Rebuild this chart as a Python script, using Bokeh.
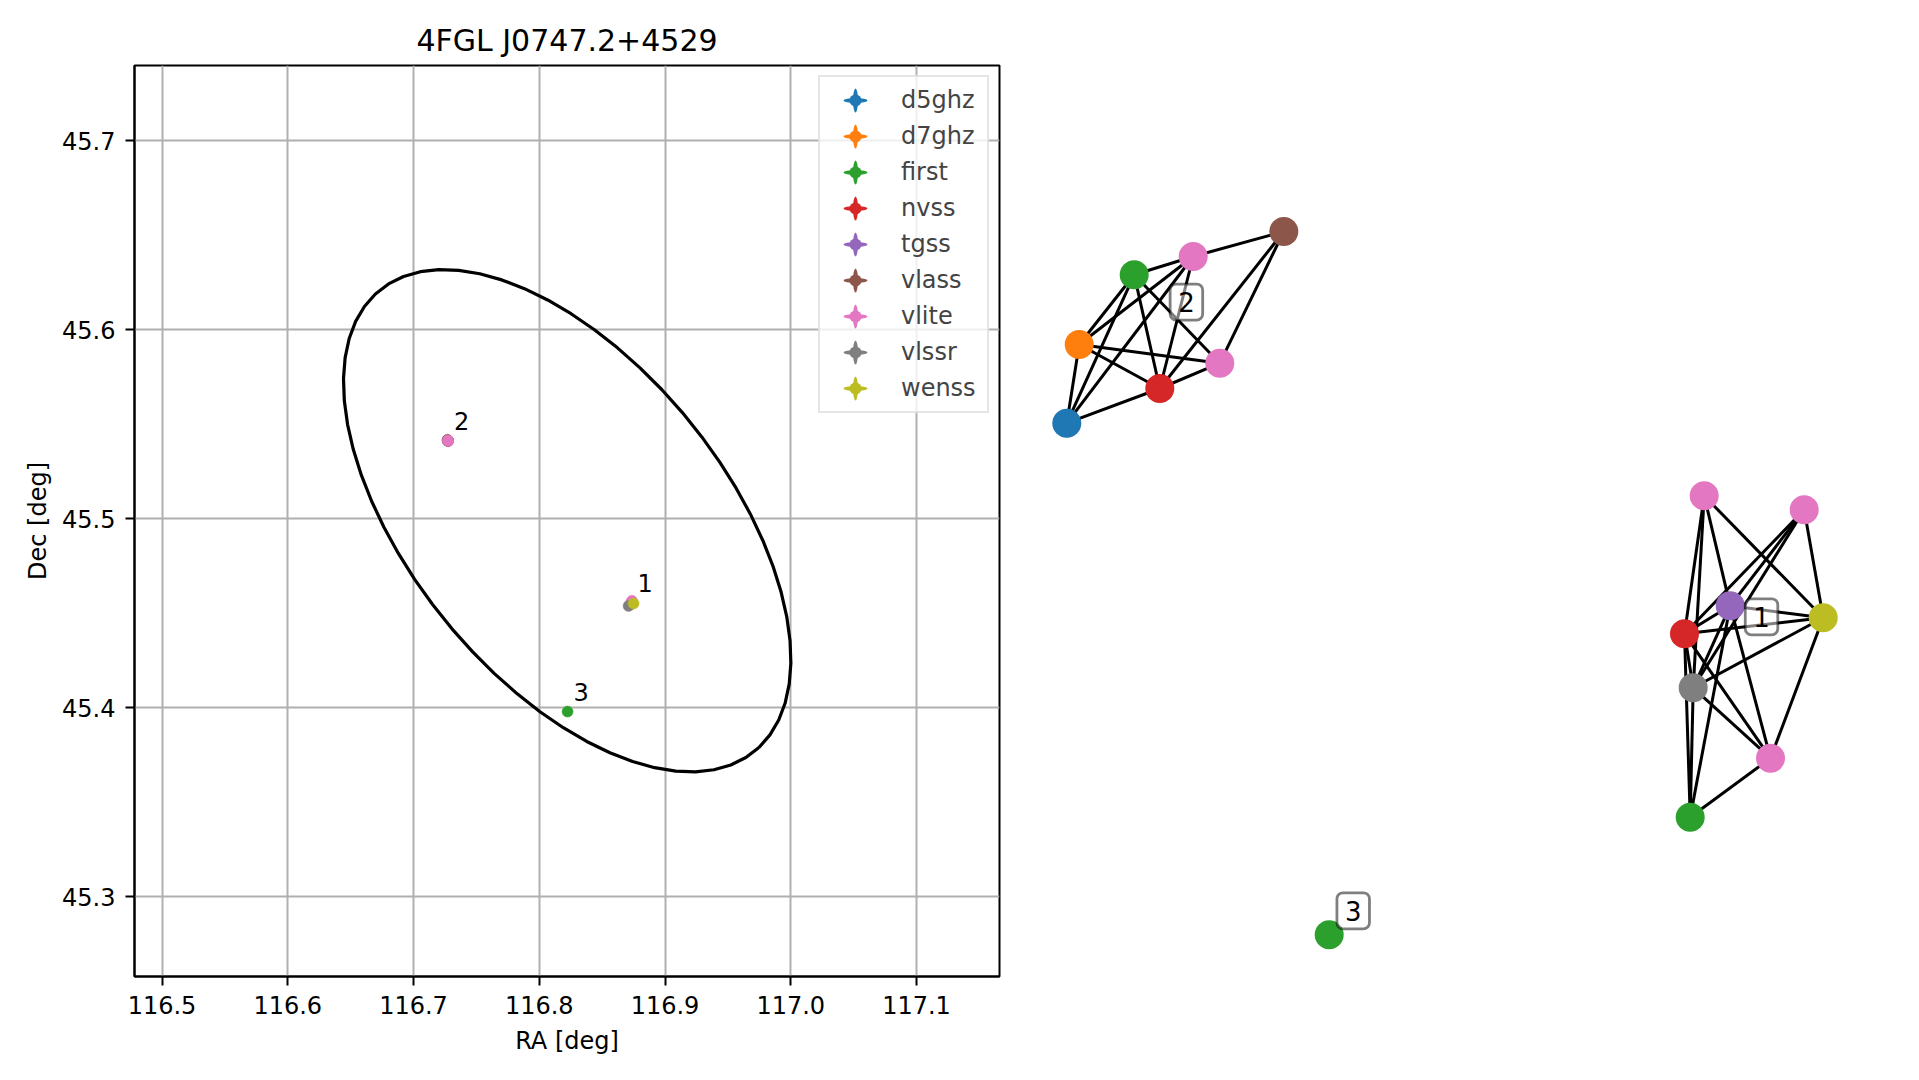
import numpy as np
from bokeh.plotting import figure
from bokeh.models import (Range1d, FixedTicker, PrintfTickFormatter, ColumnDataSource,
                          Legend, LegendItem)
from bokeh.layouts import row
from bokeh.embed import file_html
from bokeh.resources import INLINE
from bokeh.core.properties import value

FONT = "DejaVu Sans"

# ---------------- data ----------------
TITLE = "4FGL J0747.2+4529"
X_LABEL = "RA [deg]"
Y_LABEL = "Dec [deg]"
X_TICKS = [116.5, 116.6, 116.7, 116.8, 116.9, 117.0, 117.1]
Y_TICKS = [45.3, 45.4, 45.5, 45.6, 45.7]
X_LIMITS = (116.4781, 117.1660)
Y_LIMITS = (45.2578, 45.7399)

SURVEYS = ["d5ghz", "d7ghz", "first", "nvss", "tgss", "vlass", "vlite", "vlssr", "wenss"]
SURVEY_COLORS = ["#1f77b4", "#ff7f0e", "#2ca02c", "#d62728", "#9467bd",
                 "#8c564b", "#e377c2", "#7f7f7f", "#bcbd22"]

# radio counterparts (sky positions) and the group each belongs to
SRC_SURVEY = ["first", "nvss", "tgss", "vlite", "vlite", "vlite", "vlssr", "wenss",
              "d5ghz", "d7ghz", "first", "nvss", "vlass", "vlite", "vlite",
              "first"]
SRC_RA = [116.8733, 116.8728, 116.8738, 116.8737, 116.8734, 116.8740, 116.8710, 116.8750,
          116.7272, 116.7273, 116.7274, 116.7275, 116.7270, 116.7274, 116.7275,
          116.8225]
SRC_DEC = [45.4552, 45.4549, 45.4553, 45.4566, 45.4560, 45.4556, 45.4539, 45.4552,
           45.5413, 45.5414, 45.5414, 45.5412, 45.5418, 45.5414, 45.5413,
           45.3980]
SRC_GROUP = [1, 1, 1, 1, 1, 1, 1, 1,
             2, 2, 2, 2, 2, 2, 2,
             3]
GROUP_IDS = [1, 2, 3]

# 95% localisation ellipse
ELLIPSE_RA = 116.8222
ELLIPSE_DEC = 45.4990
ELLIPSE_SEMI_MAJOR = 0.1607
ELLIPSE_SEMI_MINOR = 0.0860
ELLIPSE_ANGLE = -48.3   # major axis angle from +RA direction (deg, tangent plane)

# cross-match graph (layout coordinates)
NODE_SURVEY = ["d5ghz", "d7ghz", "first", "vlite", "vlass", "vlite", "nvss",
               "vlite", "vlite", "tgss", "wenss", "nvss", "vlssr", "vlite", "first",
               "first"]
NODE_X = [0.373, 0.497, 1.047, 1.637, 2.543, 1.903, 1.303,
          6.747, 7.747, 7.007, 7.937, 6.550, 6.637, 7.410, 6.607,
          2.997]
NODE_Y = [6.493, 7.280, 7.977, 8.160, 8.410, 7.093, 6.840,
          5.767, 5.627, 4.667, 4.547, 4.387, 3.847, 3.143, 2.553,
          1.377]
NODE_GROUP = [2, 2, 2, 2, 2, 2, 2,
              1, 1, 1, 1, 1, 1, 1, 1,
              3]
EDGES = [(0, 6), (0, 1), (0, 2), (0, 3), (1, 2), (1, 3), (1, 6), (1, 5),
         (2, 3), (2, 6), (2, 5), (3, 4), (3, 6), (6, 5), (6, 4), (5, 4),
         (7, 11), (7, 12), (7, 9), (7, 10), (8, 11), (8, 9), (8, 12), (8, 10),
         (9, 10), (9, 11), (9, 12), (9, 14), (9, 13), (10, 11), (10, 12), (10, 13),
         (11, 12), (11, 14), (11, 13), (12, 14), (12, 13), (13, 14)]

color_of = dict(zip(SURVEYS, SURVEY_COLORS))

# ---------------- left: sky plot ----------------
p = figure(frame_width=865, frame_height=911,
           x_range=Range1d(*X_LIMITS), y_range=Range1d(*Y_LIMITS),
           output_backend="svg", toolbar_location=None,
           min_border_left=134, min_border_right=30, min_border_top=65, min_border_bottom=100,
           title=TITLE)
p.title.text_font = FONT
p.title.text_font_size = "30px"
p.title.text_font_style = "normal"
p.title.align = "center"
p.title.text_color = "black"
p.title.standoff = 16

p.outline_line_color = "black"
p.outline_line_width = 2
p.background_fill_color = "white"
p.border_fill_color = "white"

p.xaxis.ticker = FixedTicker(ticks=X_TICKS)
p.yaxis.ticker = FixedTicker(ticks=Y_TICKS)
p.xaxis.formatter = PrintfTickFormatter(format="%.1f")
p.yaxis.formatter = PrintfTickFormatter(format="%.1f")
p.xaxis.axis_label = X_LABEL
p.yaxis.axis_label = Y_LABEL
for ax in (p.xaxis, p.yaxis):
    ax.axis_line_color = "black"
    ax.axis_line_width = 2
    ax.major_tick_line_color = "black"
    ax.major_tick_line_width = 2
    ax.major_tick_out = 9
    ax.major_tick_in = 0
    ax.minor_tick_line_color = None
    ax.major_label_text_font = FONT
    ax.major_label_text_font_size = "24px"
    ax.major_label_text_color = "black"
    ax.axis_label_text_font = FONT
    ax.axis_label_text_font_size = "24px"
    ax.axis_label_text_font_style = "normal"
    ax.axis_label_text_color = "black"
p.xaxis.major_label_standoff = 10
p.yaxis.major_label_standoff = 10
p.xaxis.axis_label_standoff = 10
p.yaxis.axis_label_standoff = 7
p.grid.grid_line_color = "#b0b0b0"
p.grid.grid_line_width = 2

# localisation ellipse outline
t = np.linspace(0.0, 2.0 * np.pi, 61)
th = np.radians(ELLIPSE_ANGLE)
xi = ELLIPSE_SEMI_MAJOR * np.cos(t) * np.cos(th) - ELLIPSE_SEMI_MINOR * np.sin(t) * np.sin(th)
eta = ELLIPSE_SEMI_MAJOR * np.cos(t) * np.sin(th) + ELLIPSE_SEMI_MINOR * np.sin(t) * np.cos(th)
ell_ra = ELLIPSE_RA + xi / np.cos(np.radians(ELLIPSE_DEC))
ell_dec = ELLIPSE_DEC + eta
p.line(ell_ra, ell_dec, line_color="black", line_width=3.2)

# sources, one renderer per survey; legend proxies (error-bar cross)
src_survey = np.array(SRC_SURVEY)
src_ra = np.array(SRC_RA)
src_dec = np.array(SRC_DEC)
legend_items = []
for s, c in zip(SURVEYS, SURVEY_COLORS):
    m = src_survey == s
    if m.any():
        p.scatter(src_ra[m], src_dec[m], size=11, fill_color=c, line_color=c, line_width=0.5)
    proxy = ColumnDataSource(dict(x=[np.nan], y=[np.nan]))
    rh = p.ellipse(x="x", y="y", width=24, height=5, width_units="screen",
                   height_units="screen", source=proxy, fill_color=c, line_color=None)
    rv = p.ellipse(x="x", y="y", width=5, height=24, width_units="screen",
                   height_units="screen", source=proxy, fill_color=c, line_color=None)
    rd = p.scatter(x="x", y="y", size=10, source=proxy, fill_color=c, line_color=None)
    legend_items.append(LegendItem(label=s, renderers=[rh, rv, rd]))

legend = Legend(items=legend_items, location="top_right",
                label_text_font=FONT, label_text_font_size="24px",
                glyph_width=54, glyph_height=30, label_standoff=19, label_width=78,
                spacing=6, padding=8, margin=10,
                border_line_color="#cccccc", border_line_width=2,
                background_fill_color="white", background_fill_alpha=0.8)
p.add_layout(legend, "center")

# group number labels next to each group
grp = np.array(SRC_GROUP)
lab_x = [float(src_ra[grp == g].mean()) for g in GROUP_IDS]
lab_y = [float(src_dec[grp == g].mean()) for g in GROUP_IDS]
p.text(lab_x, lab_y, text=[str(g) for g in GROUP_IDS], x_offset=6, y_offset=-20,
       text_align="left", text_baseline="alphabetic",
       text_font=value(FONT), text_font_size="24px", text_color="black")

# ---------------- right: cross-match graph ----------------
g = figure(frame_width=882, frame_height=911,
           x_range=Range1d(0.0, 8.82), y_range=Range1d(0.96, 10.07),
           output_backend="svg", toolbar_location=None,
           x_axis_location=None, y_axis_location=None,
           min_border_left=0, min_border_right=0, min_border_top=65, min_border_bottom=100)
g.outline_line_color = None
g.grid.visible = False
g.background_fill_color = "white"
g.border_fill_color = "white"

nx_ = np.array(NODE_X)
ny_ = np.array(NODE_Y)
e0 = [a for a, b in EDGES]
e1 = [b for a, b in EDGES]
g.segment(nx_[e0], ny_[e0], nx_[e1], ny_[e1], line_color="black", line_width=3.0)
g.scatter(nx_, ny_, size=29, fill_color=[color_of[s] for s in NODE_SURVEY], line_color=None)

ngrp = np.array(NODE_GROUP)
cx = [float(nx_[ngrp == k].mean()) for k in GROUP_IDS]
cy = [float(ny_[ngrp == k].mean()) for k in GROUP_IDS]
g.text(cx, cy, text=[str(k) for k in GROUP_IDS], x_offset=24, y_offset=-24,
       text_align="center", text_baseline="middle",
       text_font=value(FONT), text_font_size="26px", text_color="black",
       background_fill_color="white", background_fill_alpha=0.5,
       border_line_color="black", border_line_alpha=0.5, border_line_width=2.8,
       border_radius=6, padding=8)

layout = row(p, g)
open("out.html", "w").write(file_html(layout, INLINE))
